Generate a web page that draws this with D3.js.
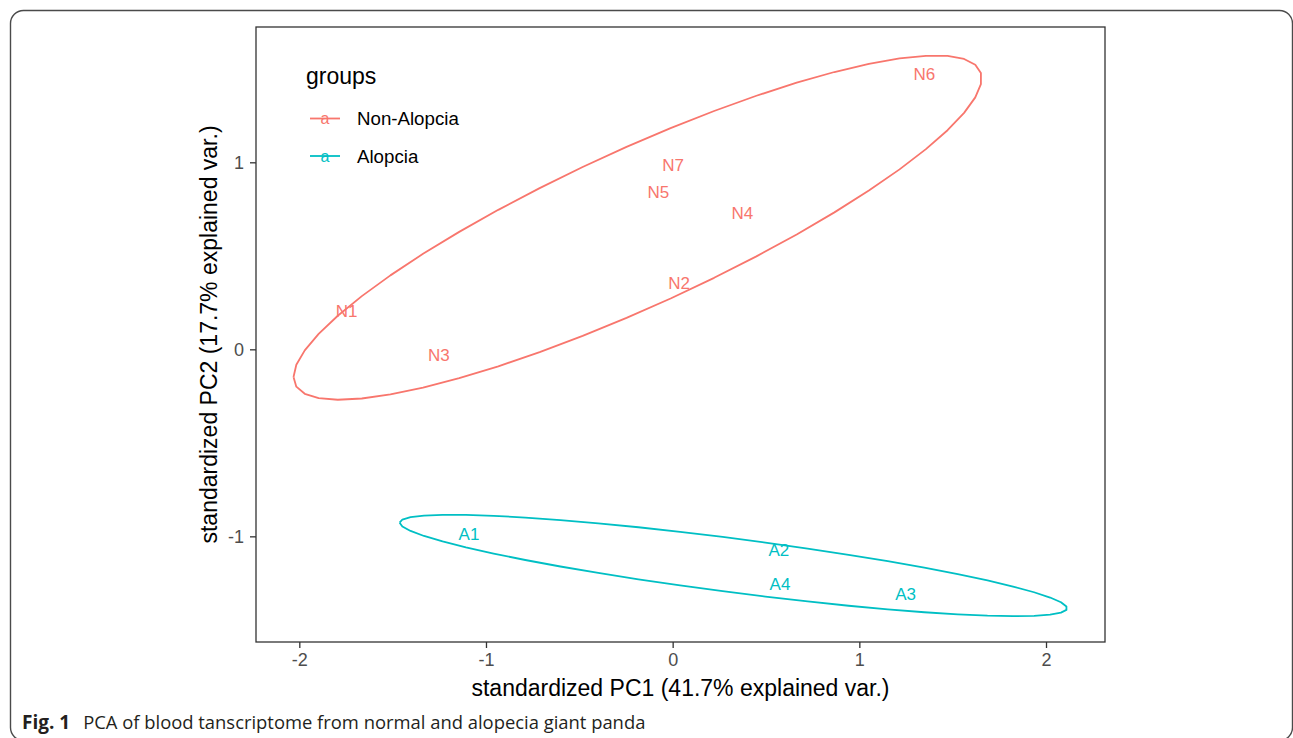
<!DOCTYPE html>
<html>
<head>
<meta charset="utf-8">
<script src="https://cdn.jsdelivr.net/npm/d3@7"></script>
<style>
  html, body { margin: 0; padding: 0; background: #fff; }
  svg { display: block; }
</style>
</head>
<body>
<svg id="chart" width="1293" height="738"></svg>
<script>
// ---- data ----
const groups = ["Non-Alopcia", "Alopcia"];
const groupColors = ["#F8766D", "#00BFC4"];
const sampleNames = ["N1", "N2", "N3", "N4", "N5", "N6", "N7", "A1", "A2", "A3", "A4"];
const sampleGroup = ["Non-Alopcia", "Non-Alopcia", "Non-Alopcia", "Non-Alopcia", "Non-Alopcia", "Non-Alopcia", "Non-Alopcia", "Alopcia", "Alopcia", "Alopcia", "Alopcia"];
const pc1 = [-1.746, 0.035, -1.252, 0.373, -0.077, 1.348, 0.003, -1.091, 0.569, 1.248, 0.575];
const pc2 = [0.205, 0.356, -0.031, 0.727, 0.840, 1.472, 0.986, -0.989, -1.070, -1.309, -1.255];
const xTicks = [-2, -1, 0, 1, 2];
const yTicks = [-1, 0, 1];
const ellipseProb = 0.8;
const xTitle = "standardized PC1 (41.7% explained var.)";
const yTitle = "standardized PC2 (17.7% explained var.)";
const legendTitle = "groups";
const captionBold = "Fig. 1";
const captionText = "PCA of blood tanscriptome from normal and alopecia giant panda";

// ---- layout ----
const panel = { left: 256, right: 1105, top: 27, bottom: 642 };
const svg = d3.select("#chart");
const font = "'Liberation Sans', Arial, Helvetica, sans-serif";

const x = d3.scaleLinear().domain([-2.232, 2.316]).range([panel.left, panel.right]);
const y = d3.scaleLinear().domain([-1.565, 1.7235]).range([panel.bottom, panel.top]);
const color = d3.scaleOrdinal().domain(groups).range(groupColors);

// outer figure frame
svg.append("rect")
  .attr("x", 10.5).attr("y", 10.5)
  .attr("width", 1282).attr("height", 730)
  .attr("rx", 13).attr("ry", 13)
  .attr("fill", "none").attr("stroke", "#4a4a4a").attr("stroke-width", 1.4);

// ellipses (ggbiplot style: chol of covariance, sqrt(qchisq(p, 2)))
const ed = Math.sqrt(-2 * Math.log(1 - ellipseProb));
const nTheta = 50;
const theta = d3.range(nTheta).map(i => -Math.PI + 2 * Math.PI * i / (nTheta - 1));
const points = sampleNames.map((n, i) => ({ name: n, group: sampleGroup[i], x: pc1[i], y: pc2[i] }));

const line = d3.line().x(d => x(d[0])).y(d => y(d[1]));

groups.forEach(g => {
  const pts = points.filter(p => p.group === g);
  const n = pts.length;
  const mx = d3.mean(pts, p => p.x), my = d3.mean(pts, p => p.y);
  const sxx = d3.sum(pts, p => (p.x - mx) ** 2) / (n - 1);
  const syy = d3.sum(pts, p => (p.y - my) ** 2) / (n - 1);
  const sxy = d3.sum(pts, p => (p.x - mx) * (p.y - my)) / (n - 1);
  const r11 = Math.sqrt(sxx), r12 = sxy / r11, r22 = Math.sqrt(syy - r12 * r12);
  const ell = theta.map(t => [mx + ed * Math.cos(t) * r11, my + ed * (Math.cos(t) * r12 + Math.sin(t) * r22)]);
  svg.append("path")
    .attr("d", line(ell))
    .attr("fill", "none")
    .attr("stroke", color(g))
    .attr("stroke-width", 1.8)
    .attr("stroke-linejoin", "round");
});

// sample labels
svg.append("g").selectAll("text")
  .data(points).join("text")
  .attr("x", d => x(d.x))
  .attr("y", d => y(d.y))
  .attr("dy", "0.36em")
  .attr("text-anchor", "middle")
  .attr("font-family", font)
  .attr("font-size", 17)
  .attr("fill", d => color(d.group))
  .text(d => d.name);

// panel border
svg.append("rect")
  .attr("x", panel.left).attr("y", panel.top)
  .attr("width", panel.right - panel.left).attr("height", panel.bottom - panel.top)
  .attr("fill", "none").attr("stroke", "#333333").attr("stroke-width", 1.3);

// axes
const fmt = d => String(d);
const xAxis = svg.append("g")
  .attr("transform", `translate(0,${panel.bottom})`)
  .call(d3.axisBottom(x).tickValues(xTicks).tickSize(6).tickPadding(5).tickFormat(fmt));
const yAxis = svg.append("g")
  .attr("transform", `translate(${panel.left},0)`)
  .call(d3.axisLeft(y).tickValues(yTicks).tickSize(6).tickPadding(6).tickFormat(fmt));
[xAxis, yAxis].forEach(a => {
  a.select(".domain").remove();
  a.selectAll(".tick line").attr("stroke", "#333333").attr("stroke-width", 1.3);
  a.selectAll(".tick text")
    .attr("font-family", font).attr("font-size", 18).attr("fill", "#4D4D4D");
});
yAxis.selectAll(".tick text").attr("dy", "0.36em");

// axis titles
svg.append("text")
  .attr("x", (panel.left + panel.right) / 2).attr("y", 696)
  .attr("text-anchor", "middle")
  .attr("font-family", font).attr("font-size", 23).attr("fill", "#000")
  .text(xTitle);
svg.append("text")
  .attr("transform", `translate(217,${(panel.top + panel.bottom) / 2}) rotate(-90)`)
  .attr("text-anchor", "middle")
  .attr("font-family", font).attr("font-size", 23).attr("fill", "#000")
  .text(yTitle);

// legend
const legend = svg.append("g");
legend.append("text")
  .attr("x", 306).attr("y", 84)
  .attr("font-family", font).attr("font-size", 23).attr("fill", "#000")
  .text(legendTitle);
groups.forEach((g, i) => {
  const cy = 118.5 + i * 37.5;
  legend.append("line")
    .attr("x1", 310).attr("x2", 340).attr("y1", cy).attr("y2", cy)
    .attr("stroke", color(g)).attr("stroke-width", 1.8);
  legend.append("text")
    .attr("x", 325).attr("y", cy).attr("dy", "0.36em")
    .attr("text-anchor", "middle")
    .attr("font-family", font).attr("font-size", 16).attr("fill", color(g))
    .text("a");
  legend.append("text")
    .attr("x", 357).attr("y", cy).attr("dy", "0.36em")
    .attr("font-family", font).attr("font-size", 18.7).attr("fill", "#000")
    .text(g);
});

// caption
const cap = svg.append("text")
  .attr("x", 22).attr("y", 729)
  .attr("font-family", "'Open Sans', 'Noto Sans', sans-serif")
  .attr("font-size", 18.4).attr("fill", "#231f20");
cap.append("tspan").attr("font-weight", "bold").attr("font-size", 19).text(captionBold);
cap.append("tspan").attr("dx", 13).text(captionText);
</script>
</body>
</html>
